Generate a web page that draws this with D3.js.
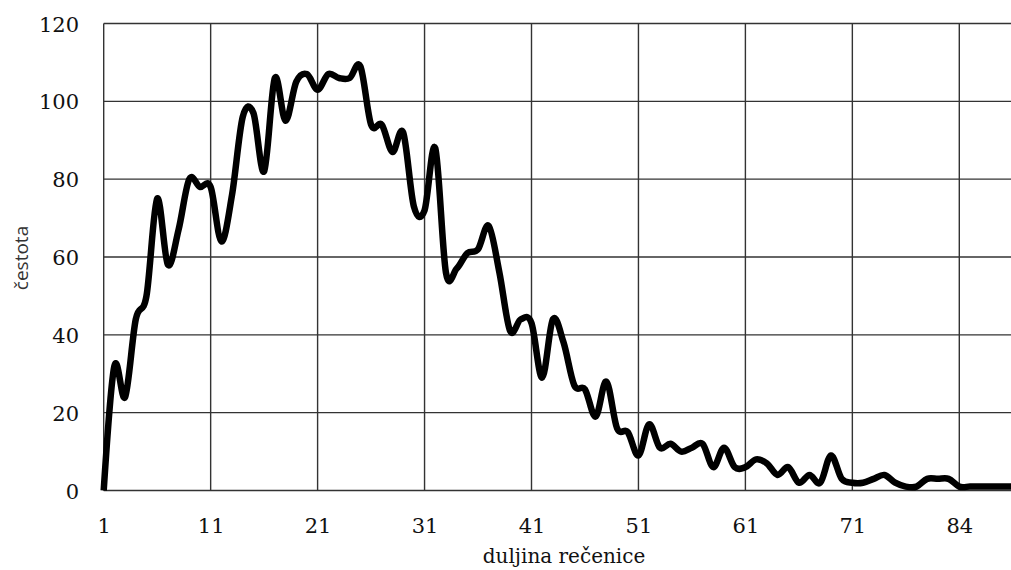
<!DOCTYPE html>
<html>
<head>
<meta charset="utf-8">
<script src="https://cdn.jsdelivr.net/npm/d3@7"></script>
<style>
  html, body { margin: 0; padding: 0; background: #fff; }
  svg { display: block; }
</style>
</head>
<body>
<svg id="chart" width="1011" height="570"></svg>
<script>
// sentence lengths (categories) - gaps after 71
const categories = [
  1,2,3,4,5,6,7,8,9,10,11,12,13,14,15,16,17,18,19,20,
  21,22,23,24,25,26,27,28,29,30,31,32,33,34,35,36,37,38,39,40,
  41,42,43,44,45,46,47,48,49,50,51,52,53,54,55,56,57,58,59,60,
  61,62,63,64,65,66,67,68,69,70,71,72,73,74,75,76,78,80,81,83,
  84,85,86,87,88,90
];
// frequency
const values = [
  0,32,24,44,50,75,58,67,80,78,78,64,76,96,97,82,106,95,105,107,
  103,107,106,106,109,94,94,87,92,73,72,88,56,57,61,62,68,56,41,44,
  43,29,44,38,27,26,19,28,16,15,9,17,11,12,10,11,12,6,11,6,
  6,8,7,4,6,2,4,2,9,3,2,2,3,4,2,1,1,3,3,3,
  1,1,1,1,1,1
];
const xTickIndex = [0,10,20,30,40,50,60,70,80];
const yTicks = [0,20,40,60,80,100,120];
const xTitle = "duljina rečenice";
const yTitle = "čestota";

(function () {
const svg = d3.select("#chart");
const mLeft = 103.7, mRight = 1011, mTop = 23.5, mBottom = 490.5;

const x = d3.scaleLinear().domain([0, 80]).range([mLeft, 959.3]);
const y = d3.scaleLinear().domain([0, 120]).range([mBottom, mTop]);

const grid = svg.append("g");
grid.selectAll("line.h").data(yTicks).enter().append("line")
  .attr("class", "h")
  .attr("x1", mLeft).attr("x2", mRight)
  .attr("y1", d => y(d)).attr("y2", d => y(d))
  .attr("stroke", "#333").attr("stroke-width", 1.4);
grid.selectAll("line.v").data(xTickIndex).enter().append("line")
  .attr("class", "v")
  .attr("x1", d => x(d)).attr("x2", d => x(d))
  .attr("y1", mTop).attr("y2", mBottom)
  .attr("stroke", "#333").attr("stroke-width", 1.4);

const yAxis = d3.axisLeft(y).tickValues(yTicks).tickSize(0).tickPadding(0);
const gy = svg.append("g").attr("transform", "translate(79,0)").call(yAxis);
gy.select(".domain").remove();
gy.selectAll("text")
  .attr("font-family", "'DejaVu Serif', serif")
  .attr("font-size", 21)
  .attr("fill", "#111")
  .attr("dy", "0.36em");

const xAxis = d3.axisBottom(x).tickValues(xTickIndex)
  .tickFormat(i => String(categories[i])).tickSize(0).tickPadding(0);
const gx = svg.append("g").attr("transform", `translate(0,${mBottom})`).call(xAxis);
gx.select(".domain").remove();
gx.selectAll("text")
  .attr("font-family", "'DejaVu Serif', serif")
  .attr("font-size", 21)
  .attr("fill", "#111")
  .attr("y", 42)
  .attr("dy", 0);

svg.append("text")
  .attr("x", 564).attr("y", 563)
  .attr("text-anchor", "middle")
  .attr("font-family", "'DejaVu Serif', serif")
  .attr("font-size", 20)
  .attr("fill", "#111")
  .text(xTitle);

svg.append("text")
  .attr("transform", "translate(28,258) rotate(-90)")
  .attr("text-anchor", "middle")
  .attr("font-family", "'Open Sans', 'Noto Sans', sans-serif")
  .attr("font-size", 19)
  .attr("fill", "#333")
  .text(yTitle);

const line = d3.line()
  .x((d, i) => x(i))
  .y(d => y(d))
  .curve(d3.curveCardinal.tension(0));

svg.append("path")
  .datum(values)
  .attr("d", line)
  .attr("fill", "none")
  .attr("stroke", "#000")
  .attr("stroke-width", 6.5)
  .attr("stroke-linejoin", "round")
  .attr("stroke-linecap", "butt");
})();
</script>
</body>
</html>
